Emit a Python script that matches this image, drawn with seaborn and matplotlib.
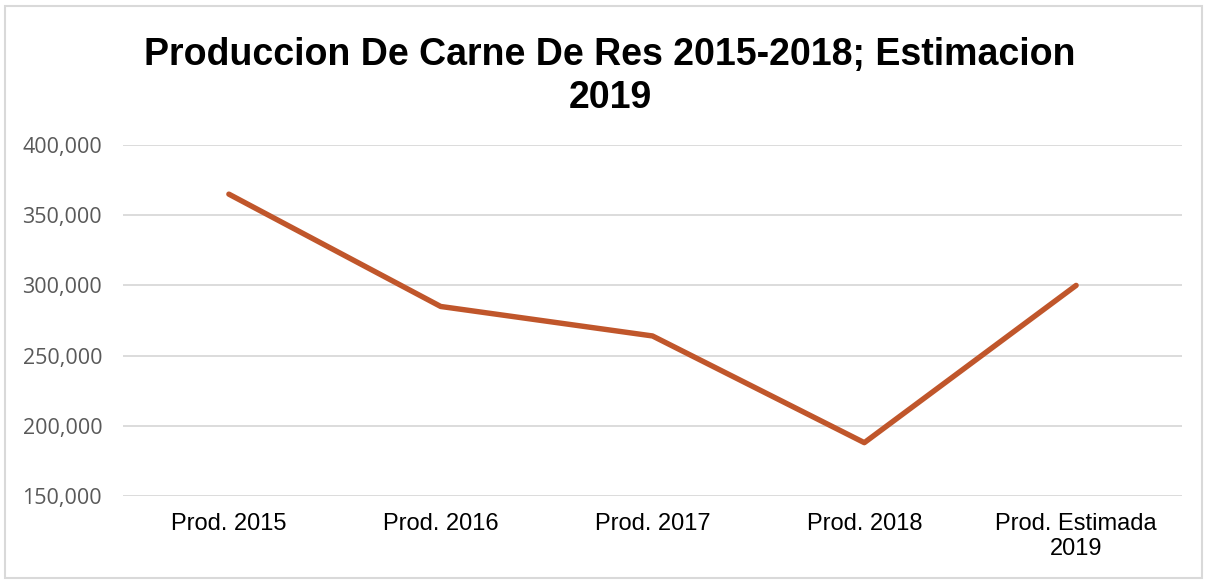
import pandas as pd
import matplotlib.pyplot as plt
import matplotlib.patches as patches
from matplotlib.ticker import FuncFormatter
import seaborn as sns

categories = ["Prod. 2015", "Prod. 2016", "Prod. 2017", "Prod. 2018", "Prod. Estimada\n2019"]
production = [365000, 285000, 264000, 188000, 300000]
y_ticks = [150000, 200000, 250000, 300000, 350000, 400000]

df = pd.DataFrame({"categoria": categories, "produccion": production})

sns.set_style("white")
plt.rcParams["font.family"] = ["Liberation Sans", "DejaVu Sans"]

fig = plt.figure(figsize=(12.08, 5.8), dpi=100)
ax = fig.add_axes([0.1018, 0.1448, 0.8767, 0.6052])

sns.lineplot(data=df, x="categoria", y="produccion", sort=False,
             color="#C0562B", linewidth=3.9, ax=ax)

ax.set_xlim(-0.5, 4.5)
ax.set_ylim(150000, 400000)
ax.set_yticks(y_ticks)
ax.yaxis.set_major_formatter(FuncFormatter(lambda v, p: f"{int(v):,}"))
ax.grid(axis="y", color="#D9D9D9", linewidth=1.3)
ax.set_axisbelow(True)
for s in ax.spines.values():
    s.set_visible(False)
ax.set_xlabel("")
ax.set_ylabel("")
ax.tick_params(axis="x", length=0, pad=12, labelsize=17, labelcolor="black")
ax.tick_params(axis="y", length=0, pad=15, labelsize=15.5, labelcolor="#595959")
for lbl in ax.get_yticklabels():
    lbl.set_family(["Open Sans", "DejaVu Sans"])

fig.text(0.505, 0.868, "Produccion De Carne De Res 2015-2018; Estimacion\n2019",
         ha="center", va="center", fontsize=27, fontweight="bold",
         linespacing=1.25, color="black")

fig.patches.append(patches.Rectangle((5 / 1208, 2 / 580), 1197 / 1208, 572 / 580,
                                     transform=fig.transFigure, fill=False,
                                     edgecolor="#D9D9D9", linewidth=1.5))

fig.savefig("out.png", dpi=100)
plt.close(fig)
